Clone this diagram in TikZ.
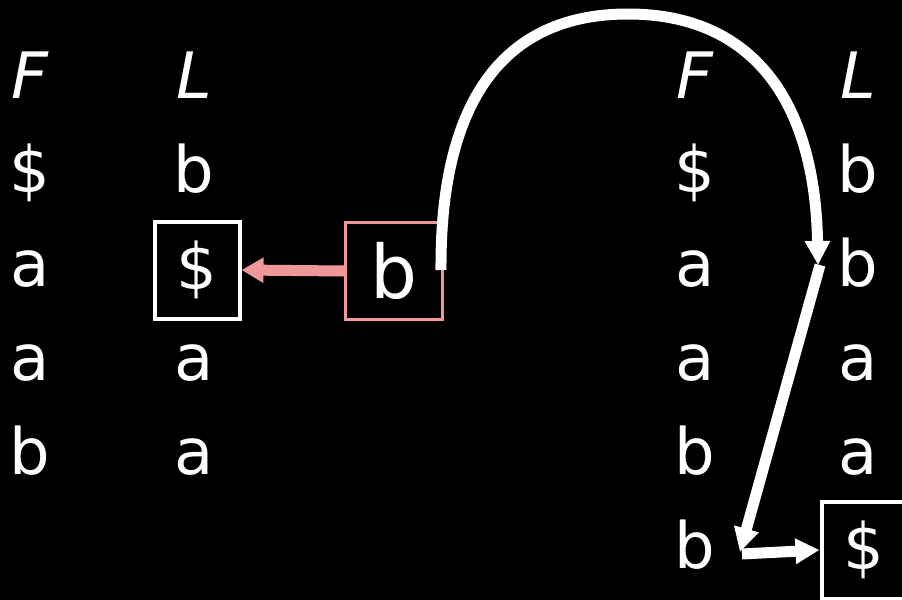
\documentclass[tikz,border=0pt]{standalone}
\usepackage{fontspec}
\setmainfont{DejaVu Sans}
\usetikzlibrary{arrows.meta}
\definecolor{rosepink}{RGB}{238,152,152}

\begin{document}
\begin{tikzpicture}[x=0.5pt, y=-0.5pt,
  glyph/.style={text=white, inner sep=0pt, anchor=base, font=\fontsize{32}{38}\selectfont},
  head/.style={glyph, font=\fontsize{32}{38}\selectfont\itshape},
  hitbox/.style={draw=white, line width=2pt, text=white, inner sep=0pt,
    minimum width=42.5pt, minimum height=48.5pt, font=\fontsize{32}{38}\selectfont},
  walk/.style={white, line width=5.5pt, -{Triangle[width=12pt, length=12pt]}}]
  \fill[black] (0,0) rectangle (902,600);
  \clip (0,0) rectangle (902,600);

  % left F and L columns
  \node[head] (lF) at (30,98) {F};
  \node[head] (lL) at (194,98) {L};
  \foreach \ch [count=\i] in {\$,a,a,b}
    \node[glyph] (lf\i) at (30,98+94*\i) {\ch};
  \node[glyph] (ll1) at (194,192) {b};
  \node[hitbox] (lhit) at (197,270) {\$};
  \node[glyph] (ll3) at (194,380) {a};
  \node[glyph] (ll4) at (194,474) {a};

  % the character that is looked up
  \node[hitbox, draw=rosepink, line width=1.5pt, minimum width=48.5pt,
    font=\fontsize{37}{44}\selectfont] (pick) at (394,271) {b};
  \draw[rosepink, line width=5.5pt, -{Triangle[width=12pt, length=11pt]}] (pick.west) -- (lhit.east);

  % right F and L columns
  \node[head] (rF) at (695,98) {F};
  \node[head] (rL) at (858,98) {L};
  \foreach \ch [count=\i] in {\$,a,a,b,b}
    \node[glyph] (rf\i) at (695,98+94*\i) {\ch};
  \foreach \ch [count=\i] in {b,b,a,a}
    \node[glyph] (rl\i) at (858,98+94*\i) {\ch};
  \node[hitbox] (rhit) at (864,550) {\$};

  % the walk
  \coordinate (rise) at (441,270);
  \coordinate (turn) at (818,265);
  \coordinate (land) at (740,552);
  \draw[walk] (rise) .. controls (440,100) and (504,14) .. (628,14)
    .. controls (752,14) and (815,100) .. (turn);
  \draw[walk] ([xshift=1pt]turn) -- (land);
  \draw[walk] ([shift={(1pt,-1pt)}]land) -- (rhit.west);
\end{tikzpicture}
\end{document}
